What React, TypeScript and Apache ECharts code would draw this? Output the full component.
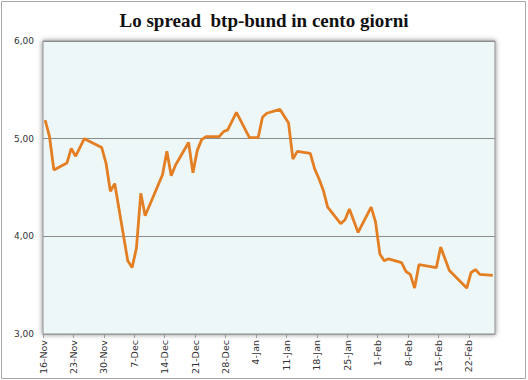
import React, { useEffect, useRef } from "react";
import * as echarts from "echarts";

const title = "Lo spread  btp-bund in cento giorni";
const monthNames = ["Jan", "Feb", "Mar", "Apr", "May", "Jun", "Jul", "Aug", "Sep", "Oct", "Nov", "Dec"];

const dates = [
  "2011-11-16", "2011-11-17", "2011-11-18", "2011-11-21", "2011-11-22", "2011-11-23", "2011-11-25",
  "2011-11-29", "2011-11-30", "2011-12-01", "2011-12-02", "2011-12-05", "2011-12-06", "2011-12-07",
  "2011-12-08", "2011-12-09", "2011-12-13", "2011-12-14", "2011-12-15", "2011-12-16", "2011-12-19",
  "2011-12-20", "2011-12-21", "2011-12-22", "2011-12-23", "2011-12-26", "2011-12-27", "2011-12-28",
  "2011-12-30", "2012-01-02", "2012-01-04", "2012-01-05", "2012-01-06", "2012-01-09", "2012-01-11",
  "2012-01-12", "2012-01-13", "2012-01-16", "2012-01-17", "2012-01-18", "2012-01-19", "2012-01-20",
  "2012-01-23", "2012-01-24", "2012-01-25", "2012-01-27", "2012-01-30", "2012-01-31", "2012-02-01",
  "2012-02-02", "2012-02-03", "2012-02-06", "2012-02-07", "2012-02-08", "2012-02-09", "2012-02-10",
  "2012-02-14", "2012-02-15", "2012-02-17", "2012-02-21", "2012-02-22", "2012-02-23", "2012-02-24",
  "2012-02-27",
];

const spread = [
  5.19, 5.02, 4.68, 4.75, 4.90, 4.82, 5.00,
  4.91, 4.75, 4.46, 4.54, 3.75, 3.68, 3.88,
  4.44, 4.21, 4.63, 4.87, 4.62, 4.73, 4.96,
  4.65, 4.88, 4.99, 5.02, 5.02, 5.07, 5.09,
  5.27, 5.01, 5.01, 5.22, 5.26, 5.30, 5.16,
  4.79, 4.87, 4.85, 4.69, 4.59, 4.47, 4.30,
  4.13, 4.17, 4.28, 4.04, 4.30, 4.15, 3.82,
  3.75, 3.77, 3.73, 3.64, 3.61, 3.47, 3.71,
  3.68, 3.89, 3.65, 3.47, 3.63, 3.66, 3.61,
  3.60,
];

const yTicks = [3, 4, 5, 6];
const startDate = "2011-11-16";
const endDate = "2012-02-28";

const DAY = 86400000;
const toUTC = (s: string) => {
  const [y, m, d] = s.split("-").map(Number);
  return Date.UTC(y, m - 1, d);
};
const t0 = toUTC(startDate);
const dayOf = (s: string) => (toUTC(s) - t0) / DAY;

export default function App() {
  const ref = useRef<HTMLDivElement>(null);
  useEffect(() => {
    if (!ref.current) return;
    const chart = echarts.init(ref.current, null, { renderer: "svg" });
    const data = dates.map((d, i) => [dayOf(d) + 0.5, spread[i]]);
    chart.setOption({
      animation: false,
      backgroundColor: "#ffffff",
      title: {
        text: title,
        left: "center",
        top: 6,
        textStyle: {
          fontFamily: "Liberation Serif",
          fontWeight: "bold",
          fontSize: 19,
          color: "#111111",
        },
      },
      graphic: [
        {
          type: "rect",
          shape: { x: 1.5, y: 1.5, width: 524, height: 377 },
          style: { fill: "none", stroke: "#a8a8a8", lineWidth: 1 },
          silent: true,
        },
      ],
      grid: {
        left: 43,
        top: 41,
        right: 33,
        bottom: 46,
        show: true,
        backgroundColor: "#EEF7F8",
        borderColor: "#8f8f8f",
        borderWidth: 1,
        shadowColor: "rgba(0,0,0,0.5)",
        shadowBlur: 5,
      },
      xAxis: {
        type: "value",
        min: 0,
        max: dayOf(endDate),
        interval: 7,
        axisLine: { show: true, lineStyle: { color: "#9a9a9a", width: 1 } },
        axisTick: { show: true, length: 4, lineStyle: { color: "#9a9a9a" } },
        splitLine: { show: false },
        axisLabel: {
          rotate: 90,
          margin: 6,
          showMaxLabel: false,
          fontFamily: "DejaVu Sans",
          fontSize: 9.5,
          color: "#333333",
          formatter: (v: number) => {
            const d = new Date(t0 + v * DAY);
            return d.getUTCDate() + "-" + monthNames[d.getUTCMonth()];
          },
        },
      },
      yAxis: {
        type: "value",
        min: yTicks[0],
        max: yTicks[yTicks.length - 1],
        interval: 1,
        axisLine: { show: false },
        axisTick: { show: false },
        splitLine: { show: true, lineStyle: { color: "#8c8c8c", width: 1 } },
        axisLabel: {
          margin: 9,
          fontFamily: "DejaVu Sans",
          fontSize: 9,
          color: "#333333",
          formatter: (v: number) => v.toFixed(2).replace(".", ","),
        },
      },
      series: [
        {
          type: "line",
          data,
          symbol: "none",
          lineStyle: { color: "#E37E22", width: 2.8 },
        },
      ],
    });
    return () => chart.dispose();
  }, []);
  return (
    <div
      ref={ref}
      style={{ position: "fixed", left: 0, top: 0, width: 528, height: 380 }}
    />
  );
}
